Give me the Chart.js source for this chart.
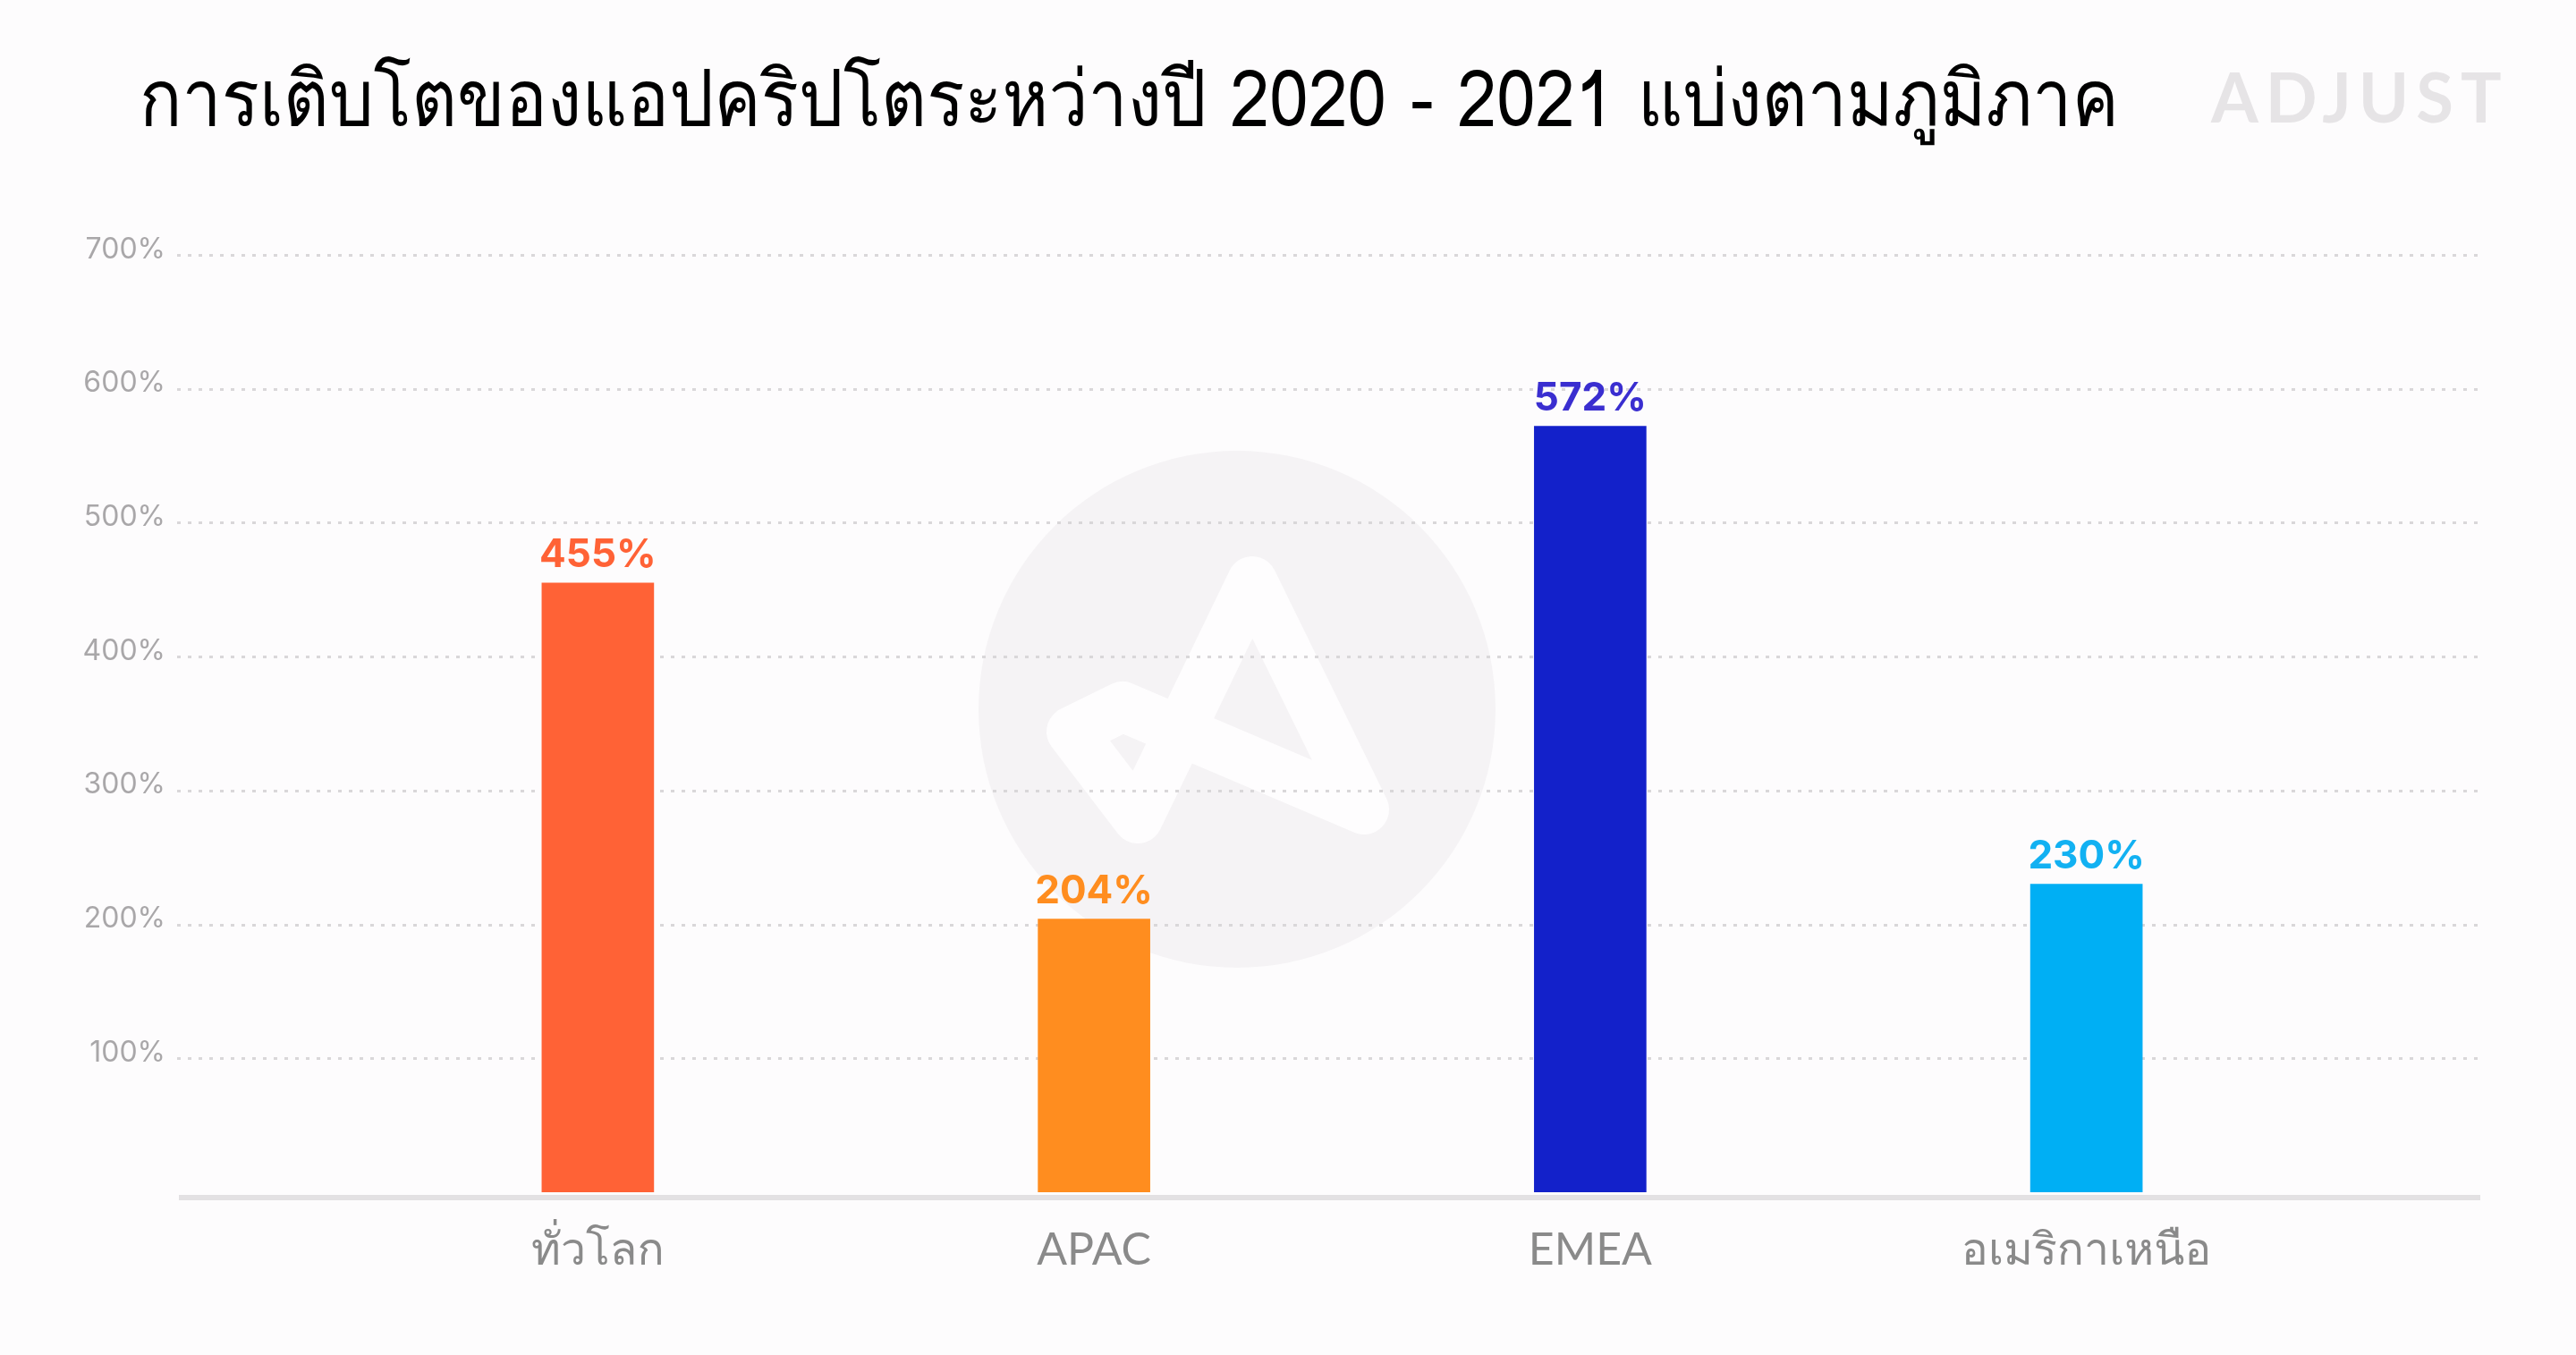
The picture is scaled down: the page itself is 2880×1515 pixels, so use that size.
<!DOCTYPE html>
<html><head><meta charset="utf-8">
<script src="https://cdn.jsdelivr.net/npm/chart.js@4.4.0/dist/chart.umd.min.js"></script>
<style>html,body{margin:0;padding:0;background:#fdfcfd;overflow:hidden}canvas{display:block}</style>
</head><body>
<canvas id="c" width="2880" height="1515" style="width:2880px;height:1515px"></canvas>
<script>
const titleText = 'การเติบโตของแอปคริปโตระหว่างปี 2020 - 2021 แบ่งตามภูมิภาค';
const categories = ['ทั่วโลก', 'APAC', 'EMEA', 'อเมริกาเหนือ'];
const growthValues = [455, 204, 572, 230];
const yTickValues = [0, 100, 200, 300, 400, 500, 600, 700];
const yTickLabels = ['', '100%', '200%', '300%', '400%', '500%', '600%', '700%'];
const barColors = ['#ff6236', '#ff8d1f', '#1321ca', '#00aff4'];
const labelColors = ['#ff6236', '#ff8d1f', '#3a2ed0', '#12b1f2'];

const thaiFont = "'Loma', 'Garuda', 'Norasi', 'Waree', 'Tlwg Typo', 'Noto Sans Thai Looped', 'Tahoma', 'Noto Sans Thai', 'Noto Sans', 'DejaVu Sans', sans-serif";

const bgPlugin = {
  id: 'bg',
  beforeDraw(chart) {
    const ctx = chart.ctx;
    ctx.save();
    ctx.fillStyle = '#fdfcfd';
    ctx.fillRect(0, 0, chart.width, chart.height);
    // watermark circle
    ctx.fillStyle = '#f5f3f5';
    ctx.beginPath();
    ctx.arc(1383, 793, 289, 0, Math.PI * 2);
    ctx.fill();
    ctx.strokeStyle = '#fefdfe';
    ctx.lineWidth = 56;
    ctx.lineCap = 'round';
    ctx.lineJoin = 'round';
    ctx.beginPath();
    ctx.moveTo(1525, 905);
    ctx.lineTo(1400, 650);
    ctx.lineTo(1272, 915);
    ctx.lineTo(1198, 818);
    ctx.lineTo(1255, 790);
    ctx.lineTo(1525, 905);
    ctx.stroke();
    // ADJUST logo
    ctx.fillStyle = '#e6e4e6';
    ctx.font = "700 76px Lato, sans-serif";
    try { ctx.letterSpacing = '8px'; } catch (e) {}
    ctx.textAlign = 'left';
    ctx.textBaseline = 'alphabetic';
    ctx.fillText('ADJUST', 2472, 137);
    try { ctx.letterSpacing = '0px'; } catch (e) {}
    // title
    ctx.fillStyle = '#000000';
    ctx.font = "400 86px " + thaiFont;
    const w = ctx.measureText(titleText).width;
    const target = 2213;
    ctx.translate(156, 140);
    ctx.scale(Math.min(1, target / w), 1);
    ctx.fillText(titleText, 0, 0);
    ctx.restore();
  }
};

const gridPlugin = {
  id: 'dottedGrid',
  beforeDatasetsDraw(chart) {
    const ctx = chart.ctx, y = chart.scales.y, a = chart.chartArea;
    ctx.save();
    ctx.setLineDash([4, 8]);
    ctx.lineWidth = 3;
    ctx.strokeStyle = '#d9d7d9';
    y.ticks.forEach(t => {
      if (t.value === 0) return;
      const py = Math.round(y.getPixelForValue(t.value)) + 0.5;
      ctx.beginPath();
      ctx.moveTo(a.left - 193, py);
      ctx.lineTo(a.right + 167, py);
      ctx.stroke();
    });
    ctx.setLineDash([]);
    ctx.lineWidth = 6;
    ctx.strokeStyle = '#e3e1e3';
    const by = y.getPixelForValue(0) + 6;
    ctx.beginPath();
    ctx.moveTo(a.left - 191, by);
    ctx.lineTo(a.right + 163, by);
    ctx.stroke();
    ctx.restore();
  }
};

const valuePlugin = {
  id: 'values',
  afterDatasetsDraw(chart) {
    const ctx = chart.ctx;
    const meta = chart.getDatasetMeta(0);
    ctx.save();
    ctx.font = "700 44px Inter, sans-serif";
    ctx.textAlign = 'center';
    ctx.textBaseline = 'alphabetic';
    meta.data.forEach((bar, i) => {
      ctx.fillStyle = labelColors[i];
      ctx.fillText(growthValues[i] + '%', bar.x, bar.y - 18);
    });
    ctx.restore();
  }
};

new Chart(document.getElementById('c'), {
  type: 'bar',
  data: {
    labels: categories,
    datasets: [{ data: growthValues, backgroundColor: barColors, barThickness: 125, borderWidth: 0 }]
  },
  options: {
    responsive: false,
    devicePixelRatio: 1,
    animation: false,
    layout: { padding: { left: 0, right: 270, top: 285, bottom: 0 } },
    plugins: {
      legend: { display: false },
      tooltip: { enabled: false },
      title: { display: false }
    },
    scales: {
      x: {
        grid: { display: false }, border: { display: false },
        ticks: { color: '#8a8a8a', font: { family: "Lato, " + thaiFont, size: 50 }, padding: 27, maxRotation: 0, autoSkip: false },
        afterFit: s => { s.height = 182; s.paddingLeft = 0; s.paddingRight = 0; }
      },
      y: {
        min: 0, max: 700,
        afterBuildTicks: s => { s.ticks = yTickValues.map(v => ({ value: v })); },
        grid: { display: false }, border: { display: false },
        ticks: { callback: (v, i) => yTickLabels[i], color: '#a9a7a9', font: { family: 'Inter, sans-serif', size: 32 }, padding: 198, labelOffset: -6 },
        afterFit: s => { s.width = 391; s.paddingTop = 0; s.paddingBottom = 0; }
      }
    }
  },
  plugins: [bgPlugin, gridPlugin, valuePlugin]
});
</script>
</body></html>
